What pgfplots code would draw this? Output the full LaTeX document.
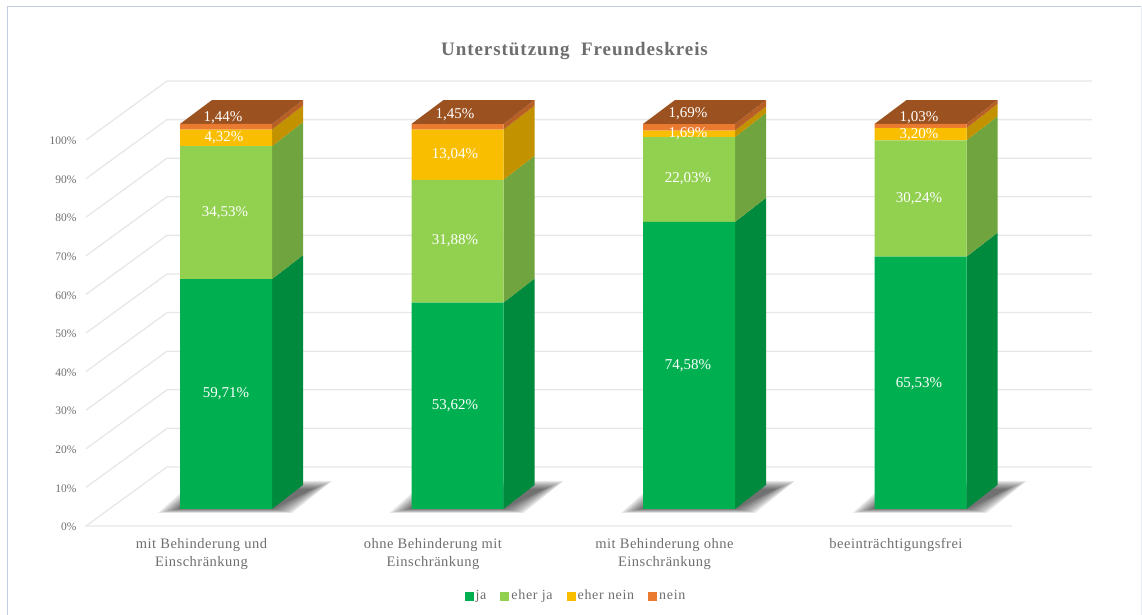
\documentclass[border=0pt]{standalone}
\usepackage{fontspec}
\setmainfont{Liberation Serif}
\usepackage{pgfplots}
\pgfplotsset{compat=1.18}
\definecolor{cja}{HTML}{00AF50}
\definecolor{cej}{HTML}{92D050}
\definecolor{cen}{HTML}{F9BE00}
\definecolor{cn}{HTML}{EA7A2F}
\definecolor{sja}{HTML}{008A3E}
\definecolor{sej}{HTML}{70A43E}
\definecolor{sen}{HTML}{C29200}
\definecolor{sn}{HTML}{B85F25}
\definecolor{ctop}{HTML}{9C5220}
\definecolor{cgrid}{HTML}{E7E7E7}
\definecolor{txt}{HTML}{6E6E6E}
\definecolor{cframe}{HTML}{C3CBE2}
\pgfplotsset{base/.style={
  scale only axis,width=1142pt,height=615pt,
  xmin=-0.97624,xmax=3.95680,ymin=-27.532,ymax=132.208,
  axis line style={draw=none},tick style={draw=none},
  major tick length=0pt,
},
shad/.style={fill=black,fill opacity=.085,draw=none,forget plot,x filter/.expression={x+#1}}}
\newcommand\shadowat[1]{%
\addplot[shad=#1] coordinates {(-.2937,-1.04) (-.1382,7.27) (.4579,7.27) (.2851,-1.04)} --cycle;
\addplot[shad=#1] coordinates {(-.2829,-.91) (-.1318,7.01) (.4492,7.01) (.2765,-.91)} --cycle;
\addplot[shad=#1] coordinates {(-.2721,-.78) (-.1253,6.75) (.4406,6.75) (.2678,-.78)} --cycle;
\addplot[shad=#1] coordinates {(-.2613,-.65) (-.1188,6.49) (.4298,6.49) (.2570,-.65)} --cycle;
\addplot[shad=#1] coordinates {(-.2505,-.52) (-.1123,6.23) (.4190,6.23) (.2462,-.52)} --cycle;
\addplot[shad=#1] coordinates {(-.2397,-.39) (-.1059,5.97) (.4082,5.97) (.2354,-.39)} --cycle;
\addplot[shad=#1] coordinates {(-.2289,-.26) (-.0994,5.71) (.3974,5.71) (.2246,-.26)} --cycle;
\addplot[shad=#1] coordinates {(-.2181,-.13) (-.0929,5.45) (.3866,5.45) (.2138,-.13)} --cycle;
\addplot[shad=#1] coordinates {(-.2073,0) (-.0864,5.19) (.3758,5.19) (.2030,0)} --cycle;
}
\begin{document}
\begin{tikzpicture}
% background: frame, grid, shadows, side and top faces
\begin{axis}[base,xtick=\empty,ytick=\empty]
\addplot[cframe,line width=1pt,forget plot] coordinates {(-.9438,-27.5) (-.9438,130.39) (3.9525,130.39)};
\addplot[cframe!40,line width=1pt,forget plot] coordinates {(3.9525,-27.5) (3.9525,130.39)};
\addplot[cgrid,line width=1.3pt,forget plot] coordinates {(3.3952,-4.416) (-.6048,-4.416) (-.2549,10.91) (3.7408,10.91)};
\addplot[cgrid,line width=1.3pt,forget plot] coordinates {(-.6048,5.61) (-.2549,20.94) (3.7408,20.94)};
\addplot[cgrid,line width=1.3pt,forget plot] coordinates {(-.6048,15.64) (-.2549,30.96) (3.7408,30.96)};
\addplot[cgrid,line width=1.3pt,forget plot] coordinates {(-.6048,25.66) (-.2549,40.99) (3.7408,40.99)};
\addplot[cgrid,line width=1.3pt,forget plot] coordinates {(-.6048,35.69) (-.2549,51.01) (3.7408,51.01)};
\addplot[cgrid,line width=1.3pt,forget plot] coordinates {(-.6048,45.71) (-.2549,61.04) (3.7408,61.04)};
\addplot[cgrid,line width=1.3pt,forget plot] coordinates {(-.6048,55.74) (-.2549,71.07) (3.7408,71.07)};
\addplot[cgrid,line width=1.3pt,forget plot] coordinates {(-.6048,65.77) (-.2549,81.09) (3.7408,81.09)};
\addplot[cgrid,line width=1.3pt,forget plot] coordinates {(-.6048,75.79) (-.2549,91.12) (3.7408,91.12)};
\addplot[cgrid,line width=1.3pt,forget plot] coordinates {(-.6048,85.82) (-.2549,101.14) (3.7408,101.14)};
\addplot[cgrid,line width=1.3pt,forget plot] coordinates {(-.6048,95.84) (-.2549,111.17) (3.7408,111.17)};
\shadowat{0}\shadowat{1}\shadowat{2}\shadowat{3}
% bar 1
\addplot[fill=sja,draw=none,forget plot] coordinates {(.1987,0) (.3326,6.23) (.3326,65.94) (.1987,59.71)} --cycle;
\addplot[fill=sej,draw=none,forget plot] coordinates {(.1987,59.71) (.3326,65.94) (.3326,100.47) (.1987,94.24)} --cycle;
\addplot[fill=sen,draw=none,forget plot] coordinates {(.1987,94.24) (.3326,100.47) (.3326,104.79) (.1987,98.56)} --cycle;
\addplot[fill=sn,draw=none,forget plot] coordinates {(.1987,98.56) (.3326,104.79) (.3326,106.23) (.1987,100)} --cycle;
\addplot[fill=ctop,draw=none,forget plot] coordinates {(-.1987,100) (.1987,100) (.3326,106.23) (-.0605,106.23)} --cycle;
% bar 2
\addplot[fill=sja,draw=none,forget plot] coordinates {(1.1987,0) (1.3326,6.23) (1.3326,59.85) (1.1987,53.62)} --cycle;
\addplot[fill=sej,draw=none,forget plot] coordinates {(1.1987,53.62) (1.3326,59.85) (1.3326,91.73) (1.1987,85.50)} --cycle;
\addplot[fill=sen,draw=none,forget plot] coordinates {(1.1987,85.50) (1.3326,91.73) (1.3326,104.77) (1.1987,98.54)} --cycle;
\addplot[fill=sn,draw=none,forget plot] coordinates {(1.1987,98.54) (1.3326,104.77) (1.3326,106.23) (1.1987,100)} --cycle;
\addplot[fill=ctop,draw=none,forget plot] coordinates {(.8013,100) (1.1987,100) (1.3326,106.23) (.9395,106.23)} --cycle;
% bar 3
\addplot[fill=sja,draw=none,forget plot] coordinates {(2.1987,0) (2.3326,6.23) (2.3326,80.81) (2.1987,74.58)} --cycle;
\addplot[fill=sej,draw=none,forget plot] coordinates {(2.1987,74.58) (2.3326,80.81) (2.3326,102.84) (2.1987,96.61)} --cycle;
\addplot[fill=sen,draw=none,forget plot] coordinates {(2.1987,96.61) (2.3326,102.84) (2.3326,104.53) (2.1987,98.30)} --cycle;
\addplot[fill=sn,draw=none,forget plot] coordinates {(2.1987,98.30) (2.3326,104.53) (2.3326,106.23) (2.1987,100)} --cycle;
\addplot[fill=ctop,draw=none,forget plot] coordinates {(1.8013,100) (2.1987,100) (2.3326,106.23) (1.9395,106.23)} --cycle;
% bar 4
\addplot[fill=sja,draw=none,forget plot] coordinates {(3.1987,0) (3.3326,6.23) (3.3326,71.76) (3.1987,65.53)} --cycle;
\addplot[fill=sej,draw=none,forget plot] coordinates {(3.1987,65.53) (3.3326,71.76) (3.3326,102.00) (3.1987,95.77)} --cycle;
\addplot[fill=sen,draw=none,forget plot] coordinates {(3.1987,95.77) (3.3326,102.00) (3.3326,105.20) (3.1987,98.97)} --cycle;
\addplot[fill=sn,draw=none,forget plot] coordinates {(3.1987,98.97) (3.3326,105.20) (3.3326,106.23) (3.1987,100)} --cycle;
\addplot[fill=ctop,draw=none,forget plot] coordinates {(2.8013,100) (3.1987,100) (3.3326,106.23) (2.9395,106.23)} --cycle;
\end{axis}
% front faces, ticks, legend, title
\begin{axis}[base,ybar stacked,bar width=92pt,
  xtick={-.106,.894,1.894,2.894},
  xticklabels={{mit Behinderung und\\Einschränkung},{ohne Behinderung mit\\Einschränkung},{mit Behinderung ohne\\Einschränkung},{beeinträchtigungsfrei}},
  xticklabel style={align=center,font=\fontsize{14.5}{18}\selectfont\addfontfeature{LetterSpace=3.4},text=txt,yshift=80pt,text depth=0pt},
  ytick={-4.416,5.61,15.64,25.66,35.69,45.71,55.74,65.77,75.79,85.82,95.84},
  yticklabels={0\%,10\%,20\%,30\%,40\%,50\%,60\%,70\%,80\%,90\%,100\%},
  yticklabel style={anchor=east,xshift=80pt,yshift=-1pt,font=\fontsize{11.5}{14}\selectfont,text=txt},
  legend image code/.code={\fill[#1] (0pt,-4.5pt) rectangle (9pt,4.5pt);},
  legend style={at={(axis cs:1.512,-22.86)},anchor=center,draw=none,fill=none,font=\fontsize{14}{16}\selectfont\addfontfeature{LetterSpace=5},text=txt,legend columns=4,
    nodes={text height=9pt,text depth=3pt},
    /tikz/every even column/.append style={column sep=12pt},inner sep=0pt},
  title={\addfontfeature{LetterSpace=5}\textbf{Unterstützung\ \ Freundeskreis}},
  title style={at={(rel axis cs:.5035,.9203)},anchor=center,font=\fontsize{19}{22}\selectfont,text=txt,yshift=-8pt},
]
\addplot[fill=cja,draw=none] coordinates {(0,59.71) (1,53.62) (2,74.58) (3,65.53)};
\addplot[fill=cej,draw=none] coordinates {(0,34.53) (1,31.88) (2,22.03) (3,30.24)};
\addplot[fill=cen,draw=none] coordinates {(0,4.32) (1,13.04) (2,1.69) (3,3.20)};
\addplot[fill=cn,draw=none] coordinates {(0,1.44) (1,1.45) (2,1.69) (3,1.03)};
\legend{ja,eher ja,eher nein,nein}
\end{axis}
% data labels
\begin{axis}[base,xtick=\empty,ytick=\empty]
\addplot[only marks,mark=none,point meta=explicit symbolic,
  nodes near coords={\pgfplotspointmeta\%},
  nodes near coords style={anchor=center,text=white,font=\fontsize{15}{17}\selectfont,inner sep=0pt,yshift=-2pt}]
 table[meta=lab] {
x y lab
0 30.39 59,71
-.004 77.40 34,53
-.0086 96.88 4,32
-.013 102.08 1,44
.9892 27.27 53,62
.9892 70.13 31,88
.9892 92.47 13,04
.9892 102.86 1,45
1.9957 37.66 74,58
1.9957 86.23 22,03
1.9957 97.92 1,69
1.9957 103.12 1,69
2.9935 32.99 65,53
2.9935 81.04 30,24
2.9935 97.66 3,20
2.9935 102.08 1,03
};
\end{axis}
\end{tikzpicture}
\end{document}
